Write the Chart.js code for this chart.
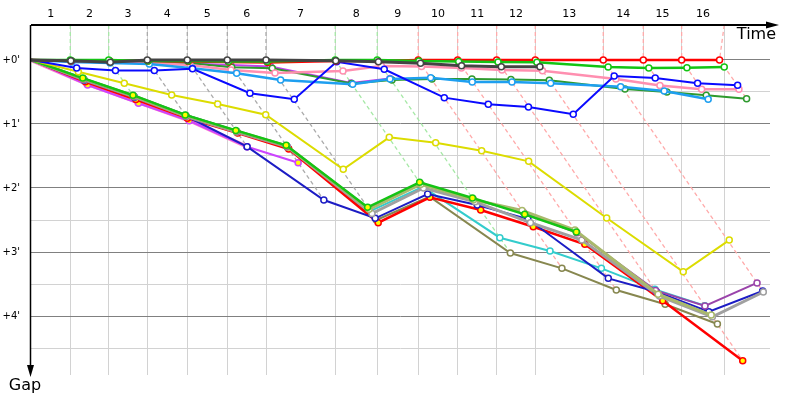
<!DOCTYPE html>
<html>
<head>
<meta charset="utf-8">
<style>
  html, body { margin: 0; padding: 0; background: #fff; }
  #wrap { width: 800px; height: 400px; }
</style>
<script src="https://cdn.jsdelivr.net/npm/chart.js@4.4.1/dist/chart.umd.min.js"></script>
</head>
<body>
<div id="wrap"><canvas id="gapChart"></canvas></div>
<script>
// leader's elapsed time (s) at each lap line
const lapTimes = [53.4, 105.6, 158.1, 212.4, 266.8, 319.4, 413.5, 470.6, 526.3, 579.9, 632.9, 685.4, 777.8, 832.2, 884.3, 942.2];
const lapLabels = ["1", "2", "3", "4", "5", "6", "7", "8", "9", "10", "11", "12", "13", "14", "15", "16"];
const lapLeaders = ["green", "green", "darkgray", "darkgray", "darkgray", "darkgray", "green", "green",
  "red", "red", "red", "red", "red", "red", "red", "red"];
const gapTicks = [0, 30, 60, 90, 120, 150, 180, 210, 240, 270];
const timeRange = [0, 1004.4];
const gapRange = [-32.8, 295.3];

// [elapsed time (s), gap to leader (s)] per lap, lap 0 = start
const redPts = [[0, 0], [54.3, 0.9], [106.5, 0.9], [159, 0.9], [213.8, 1.4], [268.7, 1.9], [321.7, 2.3], [414.4, 0.9], [471.5, 0.9],
  [526.3, 0], [579.9, 0], [632.9, 0], [685.4, 0], [777.8, 0], [832.2, 0], [884.3, 0], [935.8, 0]];
const darkgrayPts = [[0, 0], [54.1, 0.7], [107.8, 2.2], [158.1, 0], [212.4, 0], [266.8, 0], [319.4, 0], [414.2, 0.7], [472.2, 1.6],
  [529.4, 3.1], [585.2, 5.3], [639.2, 6.3], [691.7, 6.3]];
const greenPts = [[0, 0], [53.4, 0], [105.6, 0], [159, 0.9], [213.3, 0.9], [268.2, 1.4], [320.8, 1.4], [413.5, 0], [470.6, 0],
  [527.2, 0.9], [581.3, 1.4], [634.8, 1.9], [687.6, 2.2], [784.4, 6.6], [839.7, 7.5], [891.5, 7.2], [942.2, 6.6]];
const darkgreenPts = [[0, 0], [55.7, 0.9], [107.4, 0.9], [160.4, 1.9], [215.2, 2.8], [272.8, 6.8], [327.9, 7.8], [435.8, 22], [490.6, 18.8],
  [545, 17.8], [599.3, 17.8], [652.3, 18.3], [704.4, 19], [807.3, 27.2], [864.3, 30], [917.7, 33.1], [972.6, 36.3]];
const pinkPts = [[0, 0], [54.4, 0.9], [107.4, 1.9], [160.4, 2.8], [216.1, 4.7], [271.8, 9.4], [331.6, 12.2], [424, 10.3], [476.3, 5.6],
  [530.7, 6.1], [585, 7.5], [640.1, 9.4], [695.1, 10], [795, 17.8], [854.8, 23.9], [911.5, 27.4], [962.2, 27.5]];
const skybluePts = [[0, 0], [55.3, 1.9], [107.4, 2.8], [160.8, 3.8], [219.2, 7.8], [279.5, 12.5], [339.3, 18.8], [437.2, 22.8], [487.9, 17.8],
  [543.2, 16.6], [599.7, 20.6], [653.7, 20.6], [706.3, 21.8], [801.4, 25], [860.6, 29.1], [920.4, 36.8]];
const bluePts = [[0, 0], [62.1, 7.5], [114.8, 9.8], [167.6, 9.8], [219.5, 8.2], [297.6, 31.2], [357.8, 36.8], [415.4, 1.6], [480.1, 8.7],
  [561.7, 35.3], [621.5, 41.5], [676.1, 44.1], [737, 50.9], [792.6, 15], [848.4, 16.9], [906, 21.8], [960.4, 23.7]];
const violetPts = [[0, 0], [54.4, 1.4], [107.4, 1.9], [160.4, 2.3], [215.2, 3.3], [271.5, 4.7], [325.5, 6.1], [435, 21.6], [487.9, 17.3]];
const yellowPts = [[0, 0], [64.3, 11], [126.8, 21.8], [191.2, 32.8], [253.7, 41.3], [319, 51.3], [424.4, 102.5], [486.9, 72.5], [550, 77.5],
  [612.5, 85], [676.4, 95], [782.4, 148.1], [886.5, 198.5], [949, 168.8]];

// second class, lapped
const greenBPts = [[0, 0], [70.4, 17], [138.6, 33], [209.6, 51.5], [278.4, 66], [346.8, 80], [457.5, 138.1], [528.2, 114.7], [600, 129.4],
  [671, 144.7], [741.2, 161.3]];
const khakiPts = [[0, 0], [70.9, 17.5], [139.1, 33.5], [210.1, 52], [278.9, 66.5], [347.3, 80.5], [459.4, 140], [530, 116.5], [601.6, 131],
  [667.4, 141.1], [739.3, 159.4], [852.4, 219.5], [924.5, 239.1]];
const plumPts = [[0, 0], [71.4, 18], [139.6, 34], [210.6, 52.5], [279.4, 67], [347.8, 81], [458.9, 139.5], [529.5, 116], [600.9, 130.3],
  [669.3, 143], [741.9, 162], [848.9, 216], [916, 230.6], [986.8, 209]];
const grayPts = [[0, 0], [71.9, 18.5], [140.1, 34.5], [211.1, 53], [279.9, 67.5], [348.3, 81.5], [463.4, 144], [533.5, 120], [603.6, 133],
  [678.8, 152.5], [748.7, 168.8], [854.2, 221.3], [926.1, 240.7], [995.3, 217.5]];
const cyanPts = [[0, 0], [72.4, 19], [140.6, 35], [211.6, 53.5], [279.9, 67.5], [348.8, 82], [461, 141.6], [532.5, 119], [637.2, 166.6],
  [705.4, 179.1], [775.2, 195.3], [847.9, 215], [915.7, 230.3]];
const olivePts = [[0, 0], [72.9, 19.5], [141.1, 35.5], [212.1, 54], [280.4, 68], [349.3, 82.5], [469.4, 150], [541.7, 128.2], [651.5, 180.9],
  [721.6, 195.3], [795.5, 215.6], [861.9, 229], [932.9, 247.5]];
const navyPts = [[0, 0], [72.4, 19], [140.6, 35], [210.6, 52.5], [293.7, 81.3], [398, 131.3], [467.8, 148.4], [539.1, 125.6], [606.5, 135.9],
  [675.4, 149.1], [784.6, 204.7], [850.1, 217.2], [921.3, 235.9], [994.4, 216.6]];
const blueBPts = [[0, 0], [71.4, 18], [139.6, 34], [210.1, 52], [279.4, 67], [347.8, 81]];
const redBPts = [[0, 0], [73.9, 20.5], [142.6, 37], [212.6, 54.5], [280.9, 68.5], [350.3, 83.5], [471.9, 152.5], [542.2, 128.7], [611.2, 140.6],
  [682.6, 156.3], [752.7, 172.8], [858.6, 225.7], [967.3, 281.9]];
const pinkBPts = [[0, 0], [75.9, 22.5], [145.1, 39.5], [214.6, 56.5], [293.7, 81.3]];
const purpleBPts = [[0, 0], [76.9, 23.5], [146.1, 40.5], [215.1, 57], [293.7, 81.3], [363.1, 96.3]];

// drawing order: first entry ends up on top
const series = [
  { key: "darkgray", pts: darkgrayPts, color: "#444444", fill: "#ffffff", width: 3, dash: "#ababab" },
  { key: "green", pts: greenPts, color: "#14c414", fill: "#ffffff", width: 2.5, dash: "#a6e8a6" },
  { key: "red", pts: redPts, color: "#ff0000", fill: "#ffffff", width: 2.5, dash: "#ffaaaa" },
  { key: "blue", pts: bluePts, color: "#0a0aff", fill: "#ffffff", width: 2 },
  { key: "skyblue", pts: skybluePts, color: "#1e9ff0", fill: "#ffffff", width: 2.5 },
  { key: "pink", pts: pinkPts, color: "#ff8fb0", fill: "#ffffff", width: 2.5 },
  { key: "darkgreen", pts: darkgreenPts, color: "#2e9a2e", fill: "#ffffff", width: 2 },
  { key: "violet", pts: violetPts, color: "#c040ee", fill: "#ffffff", width: 2 },
  { key: "yellow", pts: yellowPts, color: "#dcdc00", fill: "#ffffff", width: 2 },
  { key: "greenB", pts: greenBPts, color: "#14c414", fill: "#ffff00", width: 2.5 },
  { key: "khaki", pts: khakiPts, color: "#a9b96c", fill: "#ffffff", width: 3 },
  { key: "plum", pts: plumPts, color: "#9a44aa", fill: "#ffffff", width: 2 },
  { key: "gray", pts: grayPts, color: "#a0a0a0", fill: "#ffffff", width: 3 },
  { key: "navy", pts: navyPts, color: "#1c1cc4", fill: "#ffffff", width: 2 },
  { key: "redB", pts: redBPts, color: "#ff0000", fill: "#ffff00", width: 2.5 },
  { key: "cyan", pts: cyanPts, color: "#33cccc", fill: "#ffffff", width: 2 },
  { key: "olive", pts: olivePts, color: "#87874f", fill: "#ffffff", width: 2 },
  { key: "blueB", pts: blueBPts, color: "#0a0aff", fill: "#ffff00", width: 3 },
  { key: "purpleB", pts: purpleBPts, color: "#cc44ff", fill: "#ffff00", width: 2 },
  { key: "pinkB", pts: pinkBPts, color: "#ff88c8", fill: "#ffff00", width: 4 },
];

function toXY(pts) {
  return pts.map(([x, y]) => ({ x, y }));
}

const datasets = series.map((s, i) => ({
  data: toXY(s.pts),
  showLine: true,
  borderColor: s.color,
  borderWidth: s.width,
  pointRadius: (ctx) => (ctx.dataIndex === 0 ? 0 : 3),
  pointBorderWidth: 1.5,
  pointBorderColor: s.color,
  pointBackgroundColor: s.fill,
  tension: 0,
  order: i,
}));

// lap lines: from the time axis to the leader, then down through every car on that lap
lapTimes.forEach((t, i) => {
  const lap = i + 1;
  const leader = series.find((s) => s.key === lapLeaders[i]);
  const lead = leader.pts[lap];
  let last = lead;
  series.forEach((s) => {
    const p = s.pts[lap];
    if (p && p[1] > last[1]) last = p;
  });
  datasets.push({
    data: toXY([[t, gapRange[0]], lead, last]),
    showLine: true,
    borderColor: leader.dash,
    borderWidth: 1.3,
    borderDash: [4, 3],
    pointRadius: 0,
    tension: 0,
    order: 100,
  });
});

// lap numbers sit between the lap lines
const lapMids = lapTimes.map((t, i) => (i === 0 ? t / 2 : (t + lapTimes[i - 1]) / 2));
const xTickValues = [];
lapTimes.forEach((t, i) => xTickValues.push(lapMids[i], t));

const axisArrows = {
  id: "axisArrows",
  afterDraw(chart) {
    const { ctx, chartArea: a } = chart;
    ctx.save();
    ctx.strokeStyle = "#000";
    ctx.fillStyle = "#000";
    ctx.lineWidth = 2;
    ctx.beginPath();
    ctx.moveTo(a.left, a.top);
    ctx.lineTo(a.right - 2, a.top);
    ctx.stroke();
    ctx.beginPath();
    ctx.moveTo(a.right + 9, a.top);
    ctx.lineTo(a.right - 4, a.top - 3.5);
    ctx.lineTo(a.right - 4, a.top + 3.5);
    ctx.closePath();
    ctx.fill();

    ctx.lineWidth = 1.5;
    ctx.beginPath();
    ctx.moveTo(a.left - 0.5, a.top);
    ctx.lineTo(a.left - 0.5, a.bottom - 8);
    ctx.stroke();
    ctx.beginPath();
    ctx.moveTo(a.left - 0.5, a.bottom + 2);
    ctx.lineTo(a.left - 4, a.bottom - 10);
    ctx.lineTo(a.left + 3, a.bottom - 10);
    ctx.closePath();
    ctx.fill();

    ctx.font = "16px 'DejaVu Sans'";
    ctx.textAlign = "right";
    ctx.textBaseline = "top";
    ctx.fillText("Time", a.right + 6, a.top + 2);
    ctx.textAlign = "center";
    ctx.fillText("Gap", a.left - 6, a.bottom + 3);
    ctx.restore();
  },
};

new Chart(document.getElementById("gapChart"), {
  type: "scatter",
  data: { datasets },
  options: {
    responsive: true,
    maintainAspectRatio: false,
    animation: false,
    layout: { padding: { left: 0, top: 0, right: 30, bottom: 25 } },
    plugins: { legend: { display: false }, tooltip: { enabled: false } },
    scales: {
      x: {
        type: "linear",
        position: "top",
        min: timeRange[0],
        max: timeRange[1],
        afterBuildTicks: (scale) => {
          scale.ticks = xTickValues.map((v) => ({ value: v }));
        },
        afterFit: (scale) => {
          scale.height = 25;
        },
        ticks: {
          autoSkip: false,
          maxRotation: 0,
          padding: 4,
          color: "#000",
          font: { family: "DejaVu Sans", size: 11 },
          callback: (v, i) => (i % 2 === 0 ? lapLabels[i / 2] : ""),
        },
        grid: {
          drawTicks: false,
          color: (ctx) => (ctx.index % 2 === 1 ? "#d2d2d2" : "rgba(0,0,0,0)"),
        },
        border: { display: false },
      },
      y: {
        type: "linear",
        reverse: true,
        min: gapRange[0],
        max: gapRange[1],
        afterBuildTicks: (scale) => {
          scale.ticks = gapTicks.map((v) => ({ value: v }));
        },
        afterFit: (scale) => {
          scale.width = 31;
        },
        ticks: {
          autoSkip: false,
          padding: 11,
          color: "#000",
          font: { family: "DejaVu Sans", size: 10 },
          callback: (v) => (v % 60 === 0 ? "+" + v / 60 + "'" : ""),
        },
        grid: {
          drawTicks: false,
          color: (ctx) => (ctx.tick && ctx.tick.value % 60 === 0 ? "#808080" : "#d2d2d2"),
        },
        border: { display: false },
      },
    },
  },
  plugins: [axisArrows],
});
</script>
</body>
</html>
